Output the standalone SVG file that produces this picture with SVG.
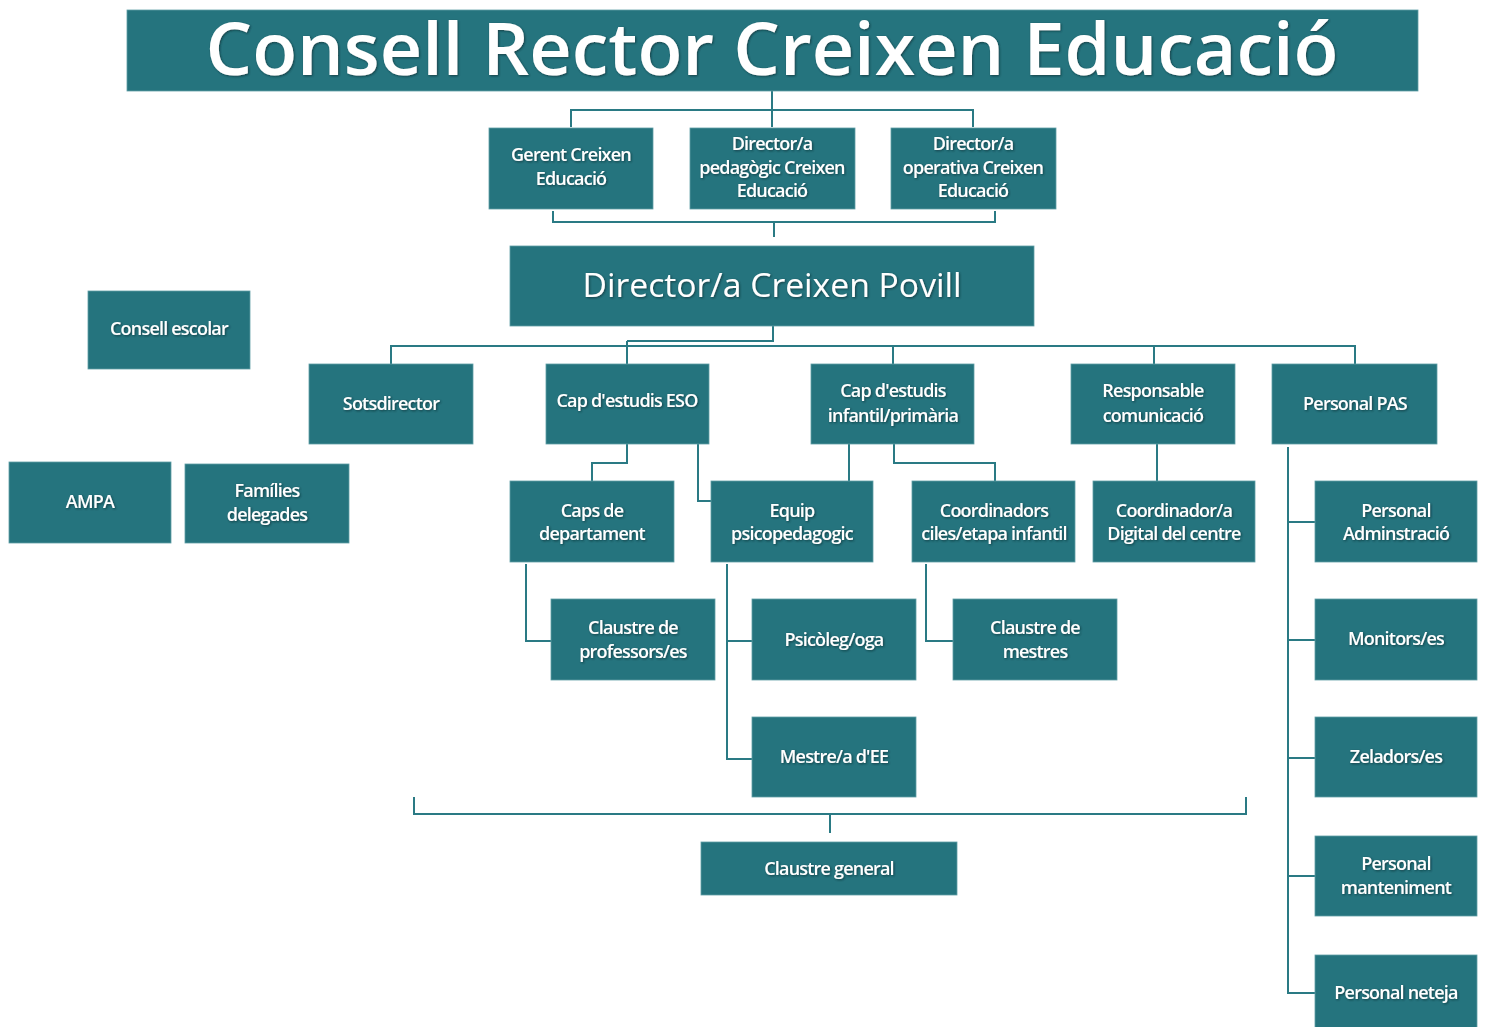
<svg xmlns="http://www.w3.org/2000/svg" width="1486" height="1027" viewBox="0 0 1486 1027">
<defs>
<filter id="sh" x="-10%" y="-30%" width="120%" height="160%">
<feDropShadow dx="1" dy="1" stdDeviation="0.8" flood-color="#0a2a2e" flood-opacity="0.7"/>
</filter>
<clipPath id="clipCoord"><rect x="912" y="481" width="163" height="81"/></clipPath>
</defs>
<style>
.box{fill:#25747e;stroke:#5f9ea6;stroke-width:0.8}
.t{fill:#ffffff;font-family:"Open Sans","Noto Sans",sans-serif;font-weight:600;font-size:18px;letter-spacing:-0.8px;text-anchor:middle;filter:url(#sh)}
.big{fill:#ffffff;font-family:"Open Sans","Noto Sans",sans-serif;text-anchor:middle;filter:url(#sh)}
.ln{fill:none;stroke:#2a7a84;stroke-width:2}
</style>
<rect width="1486" height="1027" fill="#ffffff"/>

<g id="connectors">
<path class="ln" d="M772,91 V127"/>
<path class="ln" d="M571,127 V110 H973 V127"/>
<path class="ln" d="M553,211 V222 H995 V211 M774,222 V237"/>
<path class="ln" d="M773,326 V341 H627"/>
<path class="ln" d="M391,364 V346 H1355 V364 M627,341 V364 M893,346 V364 M1154,346 V364"/>
<path class="ln" d="M627,444 V463 H592 V481"/>
<path class="ln" d="M698,444 V501 H711"/>
<path class="ln" d="M849,444 V481"/>
<path class="ln" d="M894,444 V463 H995 V481"/>
<path class="ln" d="M1157,444 V481"/>
<path class="ln" d="M526,564 V641 H551"/>
<path class="ln" d="M727,564 V759 H752 M727,641 H752"/>
<path class="ln" d="M926,564 V641 H953"/>
<path class="ln" d="M1288,447 V993 H1315 M1288,522 H1315 M1288,640 H1315 M1288,758 H1315 M1288,876 H1315"/>
<path class="ln" d="M414,797 V814 H1246 V797 M830,814 V833"/>
</g>

<g id="title">
<rect class="box" x="127" y="10" width="1291" height="81"/>
<text class="big" x="772" y="75" font-size="72" font-weight="600" textLength="1133" lengthAdjust="spacingAndGlyphs">Consell Rector Creixen Educació</text>
</g>

<g id="gerent">
<rect class="box" x="489" y="128" width="164" height="81"/>
<text class="t" x="571" y="161">Gerent Creixen</text>
<text class="t" x="571" y="185">Educació</text>
</g>
<g id="dir-pedagogic">
<rect class="box" x="690" y="128" width="165" height="81"/>
<text class="t" x="772" y="150">Director/a</text>
<text class="t" x="772" y="174">pedagògic Creixen</text>
<text class="t" x="772" y="197">Educació</text>
</g>
<g id="dir-operativa">
<rect class="box" x="891" y="128" width="165" height="81"/>
<text class="t" x="973" y="150">Director/a</text>
<text class="t" x="973" y="174">operativa Creixen</text>
<text class="t" x="973" y="197">Educació</text>
</g>

<g id="director-povill">
<rect class="box" x="510" y="246" width="524" height="80"/>
<text class="big" x="772" y="297" font-size="32" font-weight="400" textLength="379" lengthAdjust="spacingAndGlyphs">Director/a Creixen Povill</text>
</g>

<g id="consell-escolar">
<rect class="box" x="88" y="291" width="162" height="78"/>
<text class="t" x="169" y="335">Consell escolar</text>
</g>

<g id="sotsdirector">
<rect class="box" x="309" y="364" width="164" height="80"/>
<text class="t" x="391" y="410">Sotsdirector</text>
</g>
<g id="cap-eso">
<rect class="box" x="546" y="364" width="163" height="80"/>
<text class="t" x="627" y="407">Cap d'estudis ESO</text>
</g>
<g id="cap-infantil">
<rect class="box" x="811" y="364" width="163" height="80"/>
<text class="t" x="893" y="397">Cap d'estudis</text>
<text class="t" x="893" y="422">infantil/primària</text>
</g>
<g id="responsable">
<rect class="box" x="1071" y="364" width="164" height="80"/>
<text class="t" x="1153" y="397">Responsable</text>
<text class="t" x="1153" y="422">comunicació</text>
</g>
<g id="personal-pas">
<rect class="box" x="1272" y="364" width="165" height="80"/>
<text class="t" x="1355" y="410">Personal PAS</text>
</g>

<g id="ampa">
<rect class="box" x="9" y="462" width="162" height="81"/>
<text class="t" x="90" y="508">AMPA</text>
</g>
<g id="families">
<rect class="box" x="185" y="464" width="164" height="79"/>
<text class="t" x="267" y="497">Famílies</text>
<text class="t" x="267" y="521">delegades</text>
</g>

<g id="caps-departament">
<rect class="box" x="510" y="481" width="164" height="81"/>
<text class="t" x="592" y="517">Caps de</text>
<text class="t" x="592" y="540">departament</text>
</g>
<g id="equip">
<rect class="box" x="711" y="481" width="162" height="81"/>
<text class="t" x="792" y="517">Equip</text>
<text class="t" x="792" y="540">psicopedagogic</text>
</g>
<g id="coordinadors">
<rect class="box" x="912" y="481" width="163" height="81"/>
<text class="t" x="994" y="517">Coordinadors</text>
<text class="t" x="994" y="540" clip-path="url(#clipCoord)">ciles/etapa infantil</text>
</g>
<g id="coord-digital">
<rect class="box" x="1093" y="481" width="162" height="81"/>
<text class="t" x="1174" y="517">Coordinador/a</text>
<text class="t" x="1174" y="540">Digital del centre</text>
</g>

<g id="claustre-professors">
<rect class="box" x="551" y="599" width="164" height="81"/>
<text class="t" x="633" y="634">Claustre de</text>
<text class="t" x="633" y="658">professors/es</text>
</g>
<g id="psicoleg">
<rect class="box" x="752" y="599" width="164" height="81"/>
<text class="t" x="834" y="646">Psicòleg/oga</text>
</g>
<g id="claustre-mestres">
<rect class="box" x="953" y="599" width="164" height="81"/>
<text class="t" x="1035" y="634">Claustre de</text>
<text class="t" x="1035" y="658">mestres</text>
</g>
<g id="mestre-ee">
<rect class="box" x="752" y="717" width="164" height="80"/>
<text class="t" x="834" y="763">Mestre/a d'EE</text>
</g>

<g id="claustre-general">
<rect class="box" x="701" y="842" width="256" height="53"/>
<text class="t" x="829" y="875">Claustre general</text>
</g>

<g id="personal-admin">
<rect class="box" x="1315" y="481" width="162" height="81"/>
<text class="t" x="1396" y="517">Personal</text>
<text class="t" x="1396" y="540">Adminstració</text>
</g>
<g id="monitors">
<rect class="box" x="1315" y="599" width="162" height="81"/>
<text class="t" x="1396" y="645">Monitors/es</text>
</g>
<g id="zeladors">
<rect class="box" x="1315" y="717" width="162" height="80"/>
<text class="t" x="1396" y="763">Zeladors/es</text>
</g>
<g id="manteniment">
<rect class="box" x="1315" y="836" width="162" height="80"/>
<text class="t" x="1396" y="870">Personal</text>
<text class="t" x="1396" y="894">manteniment</text>
</g>
<g id="neteja">
<rect class="box" x="1315" y="955" width="162" height="80"/>
<text class="t" x="1396" y="999">Personal neteja</text>
</g>
</svg>
